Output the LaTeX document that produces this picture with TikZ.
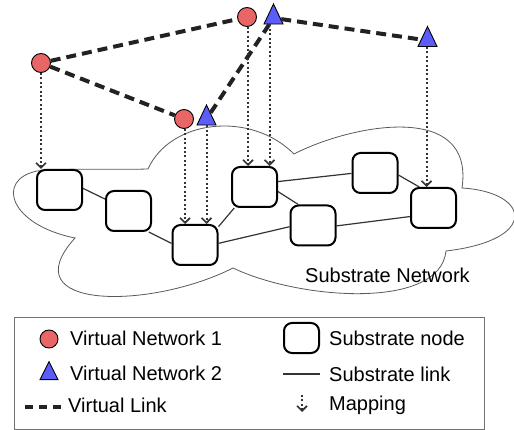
\documentclass[tikz,border=0pt]{standalone}
\usepackage{fontspec}
\setmainfont{Liberation Sans}
\usetikzlibrary{shapes.geometric,arrows.meta}
\definecolor{vred}{RGB}{233,102,102}
\definecolor{vblue}{RGB}{92,92,248}
\definecolor{dk}{RGB}{34,34,34}
\begin{document}
\begin{tikzpicture}[x=1pt,y=-1pt,
  vnone/.style={circle,draw=black,line width=0.9pt,fill=vred,minimum size=19pt,inner sep=0pt},
  vntwo/.style={isosceles triangle,isosceles triangle stretches,shape border rotate=90,draw=black,line width=0.9pt,fill=vblue,minimum width=19pt,minimum height=20pt,inner sep=0pt},
  snode/.style={draw=black,line width=2pt,rounded corners=8pt,fill=white,minimum width=45pt,minimum height=40pt,inner sep=0pt},
  slink/.style={draw=black!80,line width=1.2pt},
  vlink/.style={draw=dk,line width=4pt,dash pattern=on 10pt off 6pt},
  maparrow/.style={draw=black!80,line width=2pt,dash pattern=on 2pt off 2.4pt,-{Straight Barb[length=5pt,width=10pt,line width=1.6pt]}},
  lbl/.style={anchor=base west,inner sep=0pt,font=\fontsize{20}{24}\selectfont}
]
\useasboundingbox (0,0) rectangle (514,430);

% cloud
\draw[draw=black!65,line width=0.8pt]
  (148,169) .. controls (170,120) and (250,110) .. (294,154)
  .. controls (350,125) and (475,100) .. (462,188)
  .. controls (530,192) and (540,240) .. (446,251)
  .. controls (440,310) and (300,300) .. (233,268)
  .. controls (150,310) and (10,310) .. (75,238)
  .. controls (10,225) and (-5,180) .. (37,171)
  .. controls (70,168) and (110,170) .. (148,169) -- cycle;
\node[lbl] (cloudlbl) at (305,283) {Substrate Network};

% substrate nodes
\node[snode] (n1) at (59.5,190) {};
\node[snode] (n2) at (128.5,211) {};
\node[snode] (n3) at (195,245) {};
\node[snode] (n4) at (254.5,187) {};
\node[snode] (n5) at (313,225.5) {};
\node[snode] (n6) at (375,173) {};
\node[snode] (n7) at (433.5,208) {};

% substrate links
\draw[slink] (n1.4) -- (n2.153);
\draw[slink] (n2.-46) -- (n3.176);
\draw[slink] (n3.38) -- (n4.226);
\draw[slink] (n3.4) -- (n5.183);
\draw[slink] (n4.-11) -- (n5.125);
\draw[slink] (n4.13) -- (n6.181);
\draw[slink] (n6.-5) -- (n7.124);
\draw[slink] (n5.-1) -- (n7.200);

% virtual nodes
\node[vnone] (c1) at (41,63) {};
\node[vnone] (c2) at (247,17) {};
\node[vnone] (c3) at (184,119) {};
\node[vntwo] (t1) at (273.5,18) {};
\node[vntwo] (t2) at (427.5,40.5) {};
\node[vntwo] (t3) at (206.5,119) {};

% virtual links
\draw[vlink] (c1) -- (c2);
\draw[vlink] (c1) -- (c3);
\draw[vlink] (t1) -- (t2);
\draw[vlink] (t1) -- (t3);

% mappings
\draw[maparrow] (c1.south) -- (c1.south |- n1.north);
\draw[maparrow] ([xshift=1pt]c3.south) -- ([xshift=1pt]c3.south |- n3.north);
\draw[maparrow] (t3.south) -- (t3.south |- n3.north);
\draw[maparrow] ([xshift=1pt]c2.south) -- ([xshift=1pt]c2.south |- n4.north);
\draw[maparrow] ([xshift=-4pt]t1.south) -- ([xshift=-4pt]t1.south |- n4.north);
\draw[maparrow] ([xshift=-1pt]t2.south) -- ([xshift=-1pt]t2.south |- n7.north);

% legend
\draw[draw=black!55,line width=1pt] (14,318) rectangle (484,429.5);
\node[vnone,minimum size=18pt] (lc) at (49,339) {};
\node[lbl] (lct) at (70,345) {Virtual Network 1};
\node[vntwo,minimum width=18pt,minimum height=18pt] (lt) at (49,374) {};
\node[lbl] (ltt) at (70,380) {Virtual Network 2};
\coordinate (ld1) at (25,407);
\coordinate (ld2) at (64,407);
\draw[draw=dk,line width=4pt,dash pattern=on 8pt off 6pt] (ld1) -- (ld2);
\node[lbl] (ldt) at (68,412) {Virtual Link};
\node[snode,minimum width=35pt,minimum height=30pt] (ls) at (301.5,338) {};
\node[lbl] (lst) at (329,345) {Substrate node};
\coordinate (ll1) at (283,374);
\coordinate (ll2) at (320,374);
\draw[slink] (ll1) -- (ll2);
\node[lbl] (llt) at (329,381) {Substrate link};
\coordinate (lm1) at (302,395);
\coordinate (lm2) at (302,412);
\draw[maparrow] (lm1) -- (lm2);
\node[lbl] (lmt) at (329,410) {Mapping};
\end{tikzpicture}
\end{document}
